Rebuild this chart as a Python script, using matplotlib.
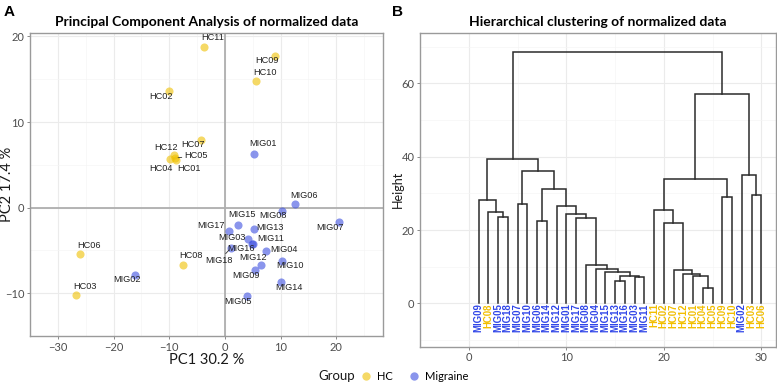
import numpy as np
import matplotlib
matplotlib.use("Agg")
import matplotlib.pyplot as plt
from matplotlib.lines import Line2D

# PCA scores
sample_names = ["HC11", "HC09", "HC10", "HC02", "HC07", "MIG01", "HC12", "HC05", "HC04", "HC01",
                "MIG06", "MIG08", "MIG07", "MIG15", "MIG13", "MIG17", "MIG03", "MIG11", "MIG16",
                "MIG18", "MIG04", "MIG12", "MIG10", "MIG09", "MIG14", "MIG05", "MIG02", "HC06",
                "HC08", "HC03"]
pc1 = [-3.7, 9.06, 5.67, -10.09, -4.26, 5.19, -9.2, -8.9, -9.9, -8.7,
       12.63, 10.24, 20.58, 2.39, 5.19, 0.78, 4.12, 5.07, 4.96,
       1.09, 7.33, 6.56, 10.31, 5.42, 10.13, 4.0, -16.16, -26.02,
       -7.6, -26.73]
pc2 = [18.76, 17.73, 14.79, 13.62, 7.90, 6.31, 6.2, 5.8, 5.67, 5.56,
       0.39, -0.39, -1.73, -1.99, -2.55, -2.77, -3.72, -4.26, -4.22,
       -4.71, -5.03, -6.73, -6.20, -7.31, -8.72, -10.35, -7.87, -5.43,
       -6.67, -10.24]

# dendrogram leaves (left to right) and merges (child ids, height); ids >= 30 are earlier merges
leaf_labels = ["MIG09", "HC08", "MIG05", "MIG18", "MIG07", "MIG10", "MIG06", "MIG14", "MIG12",
               "MIG01", "MIG17", "MIG08", "MIG04", "MIG15", "MIG13", "MIG16", "MIG03", "MIG11",
               "HC11", "HC02", "HC07", "HC12", "HC01", "HC04", "HC05", "HC09", "HC10", "MIG02",
               "HC03", "HC06"]
merge_left = [14, 16, 30, 13, 12, 11, 23, 22, 21, 20, 19, 18, 6, 2, 10, 9, 1, 8, 4, 0,
              25, 28, 42, 41, 27, 48, 49, 53, 56]
merge_right = [15, 17, 31, 32, 33, 34, 24, 36, 37, 38, 39, 40, 7, 3, 35, 44, 43, 45, 5, 46,
               26, 29, 47, 50, 51, 52, 55, 54, 57]
merge_height = [6.0, 7.1, 7.5, 8.7, 9.5, 10.6, 4.1, 7.4, 8.1, 9.1, 22.0, 25.4, 22.5, 23.5,
                23.2, 24.3, 25.0, 26.5, 27.2, 28.1, 29.0, 29.6, 31.2, 34.0, 34.9, 36.2,
                39.5, 57.1, 68.5]

col = {"HC": "#EFC000", "Migraine": "#3C4FE0"}
label_col = {"HC": "#F2BE00", "Migraine": "#2F45E8"}

def group_of(name):
    return "HC" if name.startswith("HC") else "Migraine"

# label offsets in pixels (ggrepel-like placement)
offsets = {
    "HC11": (8, 10), "HC09": (-8, -5), "HC10": (9, 9), "HC02": (-8, -5), "HC07": (-8, -5),
    "MIG01": (9, 10), "HC12": (-8, 7), "HC05": (21, 2), "HC04": (-9, -9), "HC01": (13, -8),
    "MIG06": (9, 9), "MIG08": (-9, -5), "MIG07": (-9, -5), "MIG15": (4, 10), "MIG13": (16, 2),
    "MIG17": (-18, 6), "MIG03": (-16, 2), "MIG11": (18, 6), "MIG16": (-11, -5),
    "MIG18": (-12, -13), "MIG04": (18, 1), "MIG12": (-8, 8), "MIG10": (8, -5), "MIG09": (-9, -5),
    "MIG14": (8, -5), "MIG05": (-9, -5), "MIG02": (-8, -5), "HC06": (9, 9), "HC08": (8, 9),
    "HC03": (9, 9),
}
with_segment = {"HC05", "MIG18"}

tick_grey = "#4D4D4D"

plt.rcParams["font.family"] = "Lato"

fig = plt.figure(figsize=(7.77, 3.84), dpi=100)
W, H = 777, 384
axA = fig.add_axes([30 / W, 1 - 336 / H, 353 / W, 303 / H])
axB = fig.add_axes([420 / W, 1 - 346.7 / H, 356 / W, 314 / H])

def style_axes(ax):
    ax.grid(True, which="major", color="#EBEBEB", lw=0.8, zorder=0)
    ax.grid(True, which="minor", color="#F5F5F5", lw=0.5, zorder=0)
    for s in ax.spines.values():
        s.set_color("#9A9A9A")
        s.set_linewidth(1.0)
    ax.tick_params(which="major", length=2.5, width=0.6, color="#777777",
                   labelsize=8, labelcolor=tick_grey, pad=1.5)
    ax.tick_params(which="minor", length=0)
    ax.set_axisbelow(True)

# ---- panel A: PCA ----
style_axes(axA)
axA.set_xlim(-34.6, 28.4)
axA.set_ylim(-11.8, 20.4)
axA.set_xticks([-30, -20, -10, 0, 10, 20])
axA.set_yticks([-10, 0, 10, 20])
axA.set_xticks(np.arange(-35, 30, 5), minor=True)
axA.set_yticks(np.arange(-15, 25, 5), minor=True)
axA.axhline(0, color="#AFAFAF", lw=1.3, zorder=1)
axA.axvline(0, color="#AFAFAF", lw=1.3, zorder=1)

for g in ["HC", "Migraine"]:
    xs = [x for x, n in zip(pc1, sample_names) if group_of(n) == g]
    ys = [y for y, n in zip(pc2, sample_names) if group_of(n) == g]
    axA.scatter(xs, ys, s=34, color=col[g], alpha=0.6, lw=0, zorder=3)

for n, x, y in zip(sample_names, pc1, pc2):
    dx, dy = offsets[n]
    arrow = dict(arrowstyle="-", color="#333333", lw=0.6, shrinkA=0, shrinkB=2) if n in with_segment else None
    axA.annotate(n, (x, y), xytext=(dx, dy), textcoords="offset pixels",
                 ha="center", va="center", fontsize=6.6, family="Liberation Sans",
                 color="#222222", arrowprops=arrow, zorder=4)

axA.set_xlabel("PC1 30.2 %", fontsize=10.5, color="#1A1A1A", labelpad=0)
axA.set_ylabel("PC2 17.4 %", fontsize=10.5, color="#1A1A1A", va="center")
axA.yaxis.set_label_coords(-23 / 353, 0.5)
axA.set_title("Principal Component Analysis of normalized data", fontsize=10,
              fontweight="bold", pad=5)

# ---- panel B: dendrogram ----
style_axes(axB)
axB.set_xlim(-0.38, 31.5)
axB.set_ylim(-11.8, 73.8)
axB.set_xticks([0, 10, 20, 30])
axB.set_yticks([0, 20, 40, 60])
axB.set_xticks(np.arange(-5, 35, 5), minor=True)
axB.set_yticks(np.arange(-10, 80, 10), minor=True)

n_leaves = len(leaf_labels)
node_x = {i: i + 1 for i in range(n_leaves)}
node_h = {i: 0.0 for i in range(n_leaves)}
for k, (a, b, h) in enumerate(zip(merge_left, merge_right, merge_height)):
    nid = n_leaves + k
    xa, xb = node_x[a], node_x[b]
    axB.plot([xa, xa, xb, xb], [node_h[a], h, h, node_h[b]], color="#2B2B2B", lw=1.1,
             solid_joinstyle="miter", zorder=3)
    node_x[nid] = (xa + xb) / 2
    node_h[nid] = h

for i, lab in enumerate(leaf_labels):
    axB.text(i + 1, 0, lab, rotation=90, ha="center", va="top", fontsize=6.9,
             family="Liberation Sans", fontweight="bold", color=label_col[group_of(lab)], zorder=4)

axB.set_ylabel("Height", fontsize=9, color="#1A1A1A", va="center")
axB.yaxis.set_label_coords(-22 / 356, 0.5)
axB.set_title("Hierarchical clustering of normalized data", fontsize=10,
              fontweight="bold", pad=5)

# panel letters
fig.text(4 / W, 1 - 12 / H, "A", fontsize=11, fontweight="bold", family="Liberation Sans",
         va="center", ha="left")
fig.text(392 / W, 1 - 12 / H, "B", fontsize=11, fontweight="bold", family="Liberation Sans",
         va="center", ha="left")

# legend
fig.text(318 / W, 1 - 376.5 / H, "Group", fontsize=9.5, va="center", ha="left", color="#1A1A1A")
handles = [Line2D([], [], ls="", marker="o", ms=6, color=col[g], alpha=0.6, mec="none")
           for g in ["HC", "Migraine"]]
fig.legend(handles, ["HC", "Migraine"], loc="center left", bbox_to_anchor=(359 / W, 1 - 376.5 / H),
           ncols=2, frameon=False, fontsize=8, handletextpad=0.4, columnspacing=1.3,
           handlelength=1.2, borderpad=0, borderaxespad=0)

fig.savefig("out.png", dpi=100)
